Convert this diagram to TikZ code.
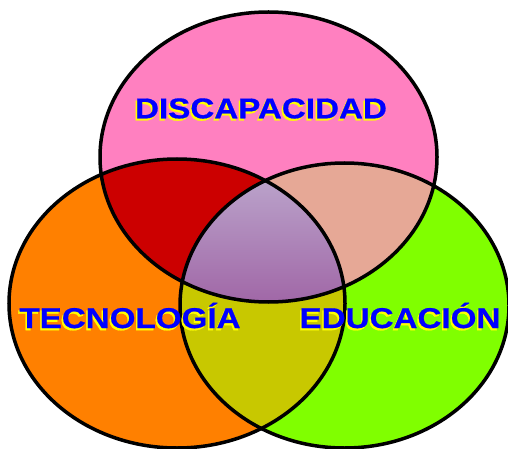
\documentclass[tikz,border=0pt]{standalone}
\usepackage{fontspec}
\setmainfont{Liberation Sans}
\newfontfamily\vennfont{Liberation Sans}[FakeBold=0.6]
\usepackage{graphicx}
\definecolor{pinkc}{RGB}{255,128,192}
\definecolor{orangec}{RGB}{255,128,0}
\definecolor{greenc}{RGB}{128,255,0}
\definecolor{redc}{RGB}{204,0,0}
\definecolor{salmonc}{RGB}{230,168,150}
\definecolor{olivec}{RGB}{200,200,0}
\definecolor{midtop}{RGB}{186,162,202}
\definecolor{midbot}{RGB}{160,102,166}
\definecolor{labelblue}{RGB}{0,0,255}
\definecolor{shadowyellow}{RGB}{255,255,0}
\newcommand{\stretchtxt}[1]{\scalebox{1.16}[1]{#1}}
\tikzset{
  vennline/.style={line width=3.5pt, draw=black},
  lbl/.style={font=\vennfont\bfseries\fontsize{28.6}{30}\selectfont, inner sep=0pt, anchor=base},
  lblfg/.style={lbl, text=labelblue},
  lblsh/.style={lbl, text=shadowyellow},
  topset/.style={insert path={(268.5,157) ellipse [x radius=168.5pt, y radius=145pt]}},
  leftset/.style={insert path={(177,303.5) ellipse [x radius=168pt, y radius=144.5pt]}},
  rightset/.style={insert path={(344.5,305.5) ellipse [x radius=164.5pt, y radius=142.5pt]}},
}
\begin{document}
\begin{tikzpicture}[x=1pt,y=-1pt]
\useasboundingbox (0,0) rectangle (508,449);
% base fills
\fill[pinkc, topset];
\fill[orangec, leftset];
\fill[greenc, rightset];
% pairwise intersections
\begin{scope}
  \clip[topset];
  \fill[redc, leftset];
\end{scope}
\begin{scope}
  \clip[topset];
  \fill[salmonc, rightset];
\end{scope}
\begin{scope}
  \clip[leftset];
  \fill[olivec, rightset];
\end{scope}
% triple intersection
\begin{scope}
  \clip[topset];
  \clip[leftset];
  \clip[rightset];
  \shade[top color=midtop, bottom color=midbot] (175,180) rectangle (350,305);
\end{scope}
% outlines
\draw[vennline, topset];
\draw[vennline, leftset];
\draw[vennline, rightset];
% labels
\node[lblsh] (discsh) at (259.5,120.5) {\stretchtxt{DISCAPACIDAD}};
\node[lblfg] (disc) at (261,118.3) {\stretchtxt{DISCAPACIDAD}};
\node[lblsh] (tecsh) at (128.5,330.2) {\stretchtxt{TECNOLOGÍA}};
\node[lblfg] (tec) at (130,328) {\stretchtxt{TECNOLOGÍA}};
\node[lblsh] (edush) at (398.5,330.2) {\stretchtxt{EDUCACIÓN}};
\node[lblfg] (edu) at (400,328) {\stretchtxt{EDUCACIÓN}};
\end{tikzpicture}
\end{document}
